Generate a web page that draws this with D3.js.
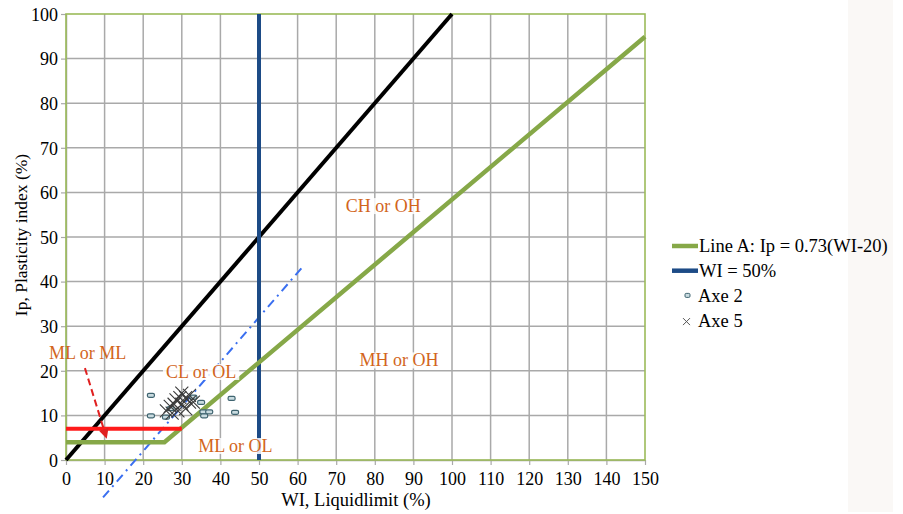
<!DOCTYPE html>
<html><head><meta charset="utf-8">
<script src="https://cdn.jsdelivr.net/npm/d3@7"></script>
<style>body{margin:0;background:#fff;} svg{display:block;font-family:"Liberation Serif","DejaVu Serif",serif;}</style>
</head><body>
<svg id="c" width="903" height="514"></svg>
<script>
const xTicks = [0,10,20,30,40,50,60,70,80,90,100,110,120,130,140,150];
const yTicks = [0,10,20,30,40,50,60,70,80,90,100];
const lineA = [[0,4],[25.5,4],[150,94.9]];
const lineB = [[0,0],[100,100]];
const wi50 = [[50,0],[50,100]];
const redLine = [[0,7],[30,7]];
const redArrow = [[4.9,20.6],[10.4,5.2]];
const dashDot = [[9.6,-8.4],[61,43]];
const axe2 = [[22,14.5],[22,9.9],[25.9,9.6],[27.1,11.5],[33,14.1],[35,12.9],[35.6,10.8],[37.1,10.8],[35.8,9.9],[42.9,13.8],[43.8,10.7]];
const axe5 = [[26,11],[27,12],[27.5,10.5],[28,12.5],[28.5,13.5],[29,11],[29.5,14],[30,15],[30,12.5],[31,14],[31,11.5],[32,14.5],[32,13],[33,13]];
const zoneLabels = [["CH or OH",82.2,57.0],["MH or OH",86.3,22.4],["CL or OL",35,19.8],["ML or OL",43.9,3.2],["ML or ML",5.6,24.1]];
const legendItems = ["Line A: Ip = 0.73(WI-20)","WI = 50%","Axe 2","Axe 5"];

const svg = d3.select("#c");
svg.append("rect").attr("x",848).attr("y",0).attr("width",45).attr("height",512).attr("fill","#faf8f6");
const x = d3.scaleLinear().domain([0,150]).range([66,645]);
const y = d3.scaleLinear().domain([0,100]).range([460,14]);

// grid
svg.append("g").selectAll("line").data(xTicks.slice(1,-1)).join("line")
 .attr("x1",d=>x(d)).attr("x2",d=>x(d)).attr("y1",y(0)).attr("y2",y(100))
 .attr("stroke","#a9a9a9").attr("stroke-width",1.5);
svg.append("g").selectAll("line").data(yTicks.slice(1,-1)).join("line")
 .attr("y1",d=>y(d)).attr("y2",d=>y(d)).attr("x1",x(0)).attr("x2",x(150))
 .attr("stroke","#a9a9a9").attr("stroke-width",1.5);

// axes
const xa = svg.append("g").attr("transform",`translate(0,${y(0)})`).call(d3.axisBottom(x).tickValues(xTicks).tickSize(5).tickSizeOuter(0).tickFormat(d3.format("d")));
const ya = svg.append("g").attr("transform",`translate(${x(0)},0)`).call(d3.axisLeft(y).tickValues(yTicks).tickSize(5).tickSizeOuter(0).tickFormat(d3.format("d")));
[xa,ya].forEach(a=>{a.attr("font-family","Liberation Serif").attr("font-size",18);
 a.select(".domain").attr("stroke","#a9a9a9").attr("stroke-width",1.5);
 a.selectAll(".tick line").attr("stroke","#a9a9a9").attr("stroke-width",1.2);
 a.selectAll("text").attr("font-family","Liberation Serif").attr("font-size",18).attr("fill","#000");});
xa.selectAll("text").attr("y",9).attr("dy","0.9em");
ya.selectAll("text").attr("x",-8).attr("dy","0.35em");

// border
svg.append("rect").attr("x",x(0)).attr("y",y(100)).attr("width",x(150)-x(0)).attr("height",y(0)-y(100))
 .attr("fill","none").attr("stroke","#9bbb59").attr("stroke-width",1.6);

const line = d3.line().x(d=>x(d[0])).y(d=>y(d[1]));
const g = svg.append("g");
g.append("path").attr("d",line(dashDot)).attr("stroke","#3a6ff0").attr("stroke-width",2).attr("fill","none").attr("stroke-dasharray","9,5,2,5");
g.append("path").attr("d",line(lineB)).attr("stroke","#000").attr("stroke-width",4).attr("fill","none");
g.append("path").attr("d",line(wi50)).attr("stroke","#1d4b86").attr("stroke-width",4).attr("fill","none");
g.append("path").attr("d",line(lineA)).attr("stroke","#86a848").attr("stroke-width",4.5).attr("fill","none").attr("stroke-linejoin","miter");
g.append("path").attr("d",line(redLine)).attr("stroke","#ff1a1a").attr("stroke-width",4).attr("fill","none");
// red dashed arrow
svg.append("defs").append("marker").attr("id","ah").attr("viewBox","0 0 10 10").attr("refX",8).attr("refY",5)
 .attr("markerWidth",5).attr("markerHeight",5).attr("orient","auto")
 .append("path").attr("d","M0,0L10,5L0,10z").attr("fill","#e02020");
g.append("path").attr("d",line(redArrow)).attr("stroke","#e02020").attr("stroke-width",2).attr("fill","none")
 .attr("stroke-dasharray","7,4").attr("marker-end","url(#ah)");

// labels
zoneLabels.forEach(([t,lx,ly])=>{
 const tx = svg.append("text").attr("x",x(lx)).attr("y",y(ly)).attr("text-anchor","middle").attr("dy","0.35em")
  .attr("font-size",18).attr("fill","#d2651c").text(t);
 const b = tx.node().getBBox();
 if(t!=="ML or ML") svg.insert("rect",()=>tx.node()).attr("x",b.x-3).attr("y",b.y+2).attr("width",b.width+6).attr("height",b.height-4).attr("fill","#fff").attr("opacity",0.85);
});

// scatter
svg.append("g").selectAll("rect").data(axe2).join("rect")
 .attr("x",d=>x(d[0])-3.5).attr("y",d=>y(d[1])-2).attr("width",7).attr("height",4).attr("rx",1.5)
 .attr("fill","#c9dbe0").attr("stroke","#3f6470").attr("stroke-width",1.2);
const xs = 6.5;
svg.append("g").selectAll("path").data(axe5).join("path")
 .attr("d",d=>`M${x(d[0])-xs},${y(d[1])-xs}L${x(d[0])+xs},${y(d[1])+xs}M${x(d[0])-xs},${y(d[1])+xs}L${x(d[0])+xs},${y(d[1])-xs}`)
 .attr("stroke","#3a3a3a").attr("stroke-width",1.1);

// legend
const lg = svg.append("g");
const ly0 = 246, ldy = 24.7;
lg.append("line").attr("x1",672).attr("x2",698).attr("y1",ly0).attr("y2",ly0).attr("stroke","#86a848").attr("stroke-width",4.5);
lg.append("line").attr("x1",672).attr("x2",698).attr("y1",ly0+ldy).attr("y2",ly0+ldy).attr("stroke","#1d4b86").attr("stroke-width",4.5);
lg.append("rect").attr("x",685).attr("y",ly0+2*ldy-2).attr("width",5).attr("height",4).attr("rx",1.2).attr("fill","#c9dbe0").attr("stroke","#3f6470").attr("stroke-width",1);
lg.append("path").attr("d",`M${683},${ly0+3*ldy-2}l7,7M${683},${ly0+3*ldy+5}l7,-7`).attr("stroke","#555").attr("stroke-width",1);
legendItems.forEach((t,i)=>{
 lg.append("text").attr("x",i<2?699:698).attr("y",ly0+i*ldy).attr("dy","0.35em").attr("font-size",18.5).attr("fill","#000").text(t);
});

// axis titles
svg.append("text").attr("x",356).attr("y",506).attr("text-anchor","middle").attr("font-size",18.5).text("WI, Liquidlimit (%)");
svg.append("text").attr("transform","translate(27,235) rotate(-90)").attr("text-anchor","middle").attr("font-size",17.5).text("Ip, Plasticity index (%)");
</script>
</body></html>
